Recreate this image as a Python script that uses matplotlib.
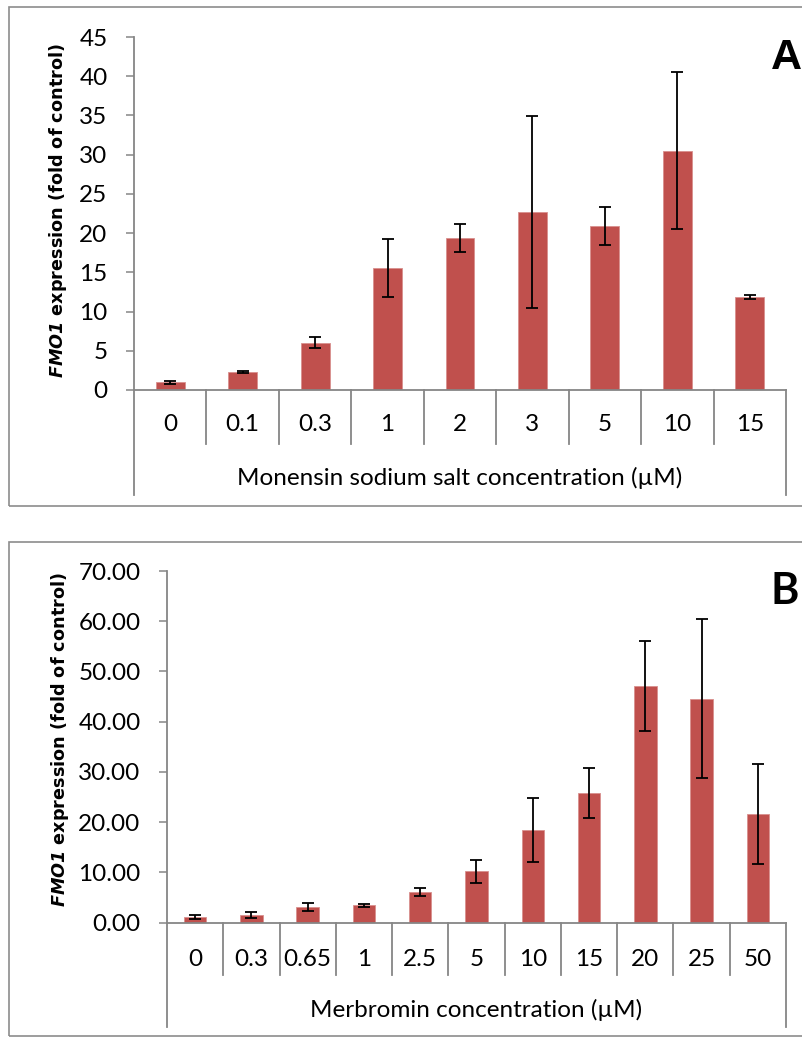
import matplotlib
matplotlib.use("Agg")
import matplotlib.pyplot as plt
from matplotlib.patches import Rectangle
from matplotlib.lines import Line2D
from matplotlib.transforms import blended_transform_factory

plt.rcParams['font.family'] = 'Lato'
plt.rcParams['mathtext.fontset'] = 'dejavusans'

# Panel A: monensin sodium salt
monensin_labels = ['0', '0.1', '0.3', '1', '2', '3', '5', '10', '15']
monensin_mean = [1.0, 2.3, 6.0, 15.5, 19.4, 22.7, 20.9, 30.5, 11.8]
monensin_err = [0.2, 0.15, 0.7, 3.7, 1.8, 12.2, 2.4, 10.0, 0.25]

# Panel B: merbromin
merbromin_labels = ['0', '0.3', '0.65', '1', '2.5', '5', '10', '15', '20', '25', '50']
merbromin_mean = [1.0, 1.5, 3.0, 3.4, 6.0, 10.2, 18.4, 25.8, 47.1, 44.6, 21.6]
merbromin_err = [0.4, 0.65, 0.8, 0.3, 0.8, 2.3, 6.3, 5.0, 9.0, 15.8, 9.9]

BAR_COLOR = '#C0504D'
AXIS_GRAY = '#868686'
TEXT_SIZE = 17.5
W, H = 803, 1037


def fx(px):
    return px / W


def fy(py):
    return 1 - py / H


def draw_panel(fig, box, labels, means, errs, ymax, ystep, fmt, xtitle, letter,
               letter_font, label_y, short_y, long_y, title_y, ylabel_pos, frame):
    left, top, right, bottom = box
    ax = fig.add_axes([fx(left), fy(bottom), fx(right) - fx(left), fy(top) - fy(bottom)])
    x = list(range(len(labels)))
    ax.bar(x, means, width=0.4, color=BAR_COLOR, edgecolor='#D8908E', linewidth=0.6,
           zorder=2)
    ax.errorbar(x, means, yerr=errs, fmt='none', ecolor='black', elinewidth=1.3,
                capsize=4.5, capthick=1.3, zorder=3)

    ax.set_xlim(-0.5, len(labels) - 0.5)
    ax.set_ylim(0, ymax)
    ax.set_yticks(range(0, ymax + 1, ystep))
    ax.set_yticklabels([fmt.format(v) for v in range(0, ymax + 1, ystep)],
                       fontsize=TEXT_SIZE)
    ax.tick_params(axis='y', direction='out', length=6, width=1.1, color=AXIS_GRAY,
                   pad=13)
    ax.set_xticks(x)
    ax.set_xticklabels(labels, fontsize=TEXT_SIZE, va='center')
    ax.tick_params(axis='x', length=0, pad=(label_y - bottom) * 0.72)

    for s in ['top', 'right']:
        ax.spines[s].set_visible(False)
    for s in ['left', 'bottom']:
        ax.spines[s].set_color(AXIS_GRAY)
        ax.spines[s].set_linewidth(1.3)

    # category dividers below the axis (two-level category axis)
    tr = blended_transform_factory(ax.transData, fig.transFigure)
    n = len(labels)
    for i in range(n + 1):
        xb = i - 0.5
        end = long_y if i in (0, n) else short_y
        fig.add_artist(Line2D([xb, xb], [fy(bottom), fy(end)], transform=tr,
                              color=AXIS_GRAY, linewidth=1.3))
    fig.text(fx((left + right) / 2), fy(title_y), xtitle, ha='center', va='center',
             fontsize=TEXT_SIZE)

    fig.text(fx(ylabel_pos[0]), fy(ylabel_pos[1]),
             r'$\mathbfit{FMO1}$ expression (fold of control)', rotation=90,
             ha='center', va='center', fontsize=12.7, fontweight='bold',
             family='DejaVu Sans')
    fig.text(fx(letter[1]), fy(letter[2]), letter[0], ha='center', va='baseline',
             fontsize=31, fontweight='bold', family=letter_font)

    fl, ft, fb = frame
    fig.add_artist(Rectangle((fx(fl), fy(fb)), fx(820) - fx(fl), fy(ft) - fy(fb),
                             transform=fig.transFigure, fill=False,
                             edgecolor='#8C8C8C', linewidth=1.2))
    return ax


fig = plt.figure(figsize=(8.03, 10.37), dpi=100)

draw_panel(fig, (134, 37, 786, 390), monensin_labels, monensin_mean, monensin_err,
           45, 5, '{:d}', 'Monensin sodium salt concentration (µM)', ('A', 786, 69),
           'Liberation Sans', 425, 443.6, 495, 478, (58, 211), (9, 7, 506))

draw_panel(fig, (167, 571, 786, 922.5), merbromin_labels, merbromin_mean, merbromin_err,
           70, 10, '{:.2f}', 'Merbromin concentration (µM)', ('B', 784.5, 604),
           'Lato', 960, 975, 1027, 1010, (60, 740), (9, 541.7, 1036))

fig.savefig('out.png', dpi=100)
